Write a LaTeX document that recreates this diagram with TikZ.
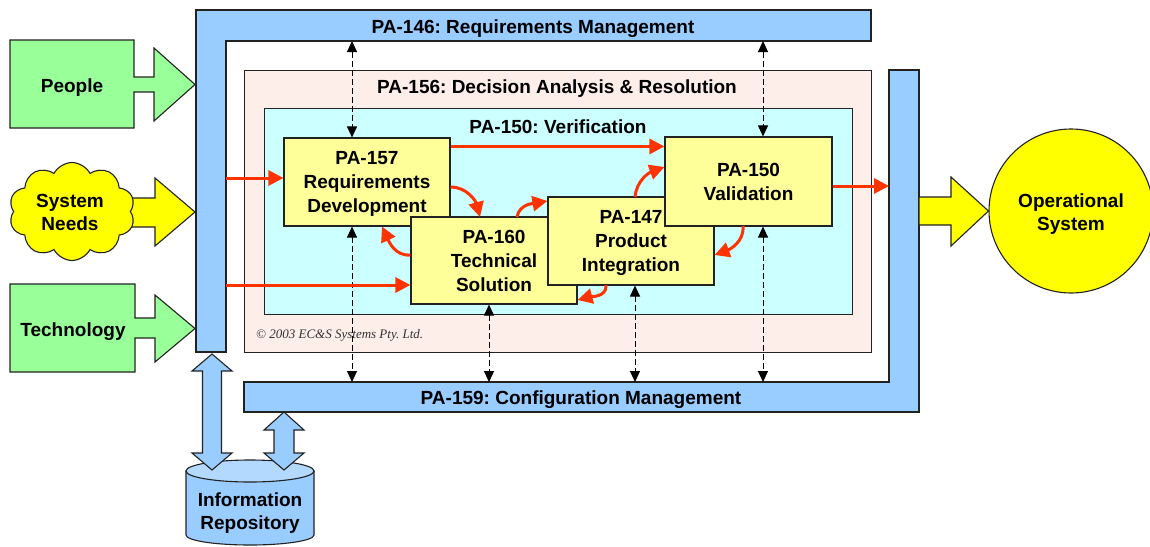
\documentclass[tikz,border=0pt]{standalone}
\usepackage{fontspec}
\setmainfont{Liberation Sans}
\newfontfamily\timesfont{Liberation Serif}
\usetikzlibrary{arrows.meta,shapes.symbols,shapes.geometric,calc}

\definecolor{barblue}{HTML}{99CCFF}
\definecolor{lgreen}{HTML}{99FF99}
\definecolor{pyellow}{HTML}{FFFF99}
\definecolor{byellow}{HTML}{FFFF00}
\definecolor{lcyan}{HTML}{CCFFFF}
\definecolor{lpink}{HTML}{FDEEEA}
\definecolor{rarrow}{HTML}{FF3300}
\definecolor{cyltop}{HTML}{B3D9FF}
\definecolor{outline}{HTML}{222222}

\begin{document}
\frenchspacing
\begin{tikzpicture}[x=1pt,y=-1pt,
  outl/.style={draw=outline, line width=1.1pt},
  lbl/.style={font=\bfseries\fontsize{19}{24}\selectfont, align=center, inner sep=0pt, yshift=-2.5pt},
  pabox/.style={outl, fill=pyellow, inner sep=0pt, align=center, text depth=0pt, font=\bfseries\fontsize{19}{24}\selectfont},
  redarr/.style={draw=rarrow, line width=3pt, -{Triangle[length=15pt,width=15pt]}},
  dasharr/.style={draw=black, line width=1pt, dash pattern=on 6pt off 3pt, {Triangle[length=11pt,width=10pt]}-{Triangle[length=11pt,width=10pt]}},
]
\useasboundingbox (0,0) rectangle (1150,546);

% PA-146 L-shaped bar
\draw[outl, fill=barblue] (196,10) -- (871,10) -- (871,41) -- (226,41) -- (226,352) -- (196,352) -- cycle;
\node[lbl] (t146) at (533,26) {PA-146: Requirements Management};

% PA-156 box
\node[outl, fill=lpink, minimum width=627pt, minimum height=282pt, inner sep=0pt, anchor=north west] (pa156) at (244,70) {};
\node[lbl] (t156) at (557,86) {PA-156: Decision Analysis \& Resolution};

% PA-159 L-shaped bar
\draw[outl, fill=barblue] (244,382) -- (889,382) -- (889,70) -- (919,70) -- (919,412) -- (244,412) -- cycle;
\node[lbl] (t159) at (581,397) {PA-159: Configuration Management};

% PA-150 verification box
\node[outl, fill=lcyan, minimum width=588pt, minimum height=206pt, inner sep=0pt, anchor=north west] (pa150v) at (264,108) {};
\node[lbl] (t150) at (558,124) {PA-150: Verification};

% copyright
\node[font=\timesfont\itshape\fontsize{13}{15}\selectfont, text=black!80, anchor=west, inner sep=0pt] (copy) at (256,335) {\textcopyright{} 2003 EC\&S Systems Pty. Ltd.};

% process area boxes
\node[pabox, minimum width=166pt, minimum height=88pt] (p157) at (367,182) {PA-157\\Requirements\\Development};
\node[pabox, minimum width=166pt, minimum height=87pt] (p160) at (494,260.5) {PA-160\\Technical\\Solution};
\node[pabox, minimum width=166pt, minimum height=88pt] (p147) at (631,241) {PA-147\\Product\\Integration};
\node[pabox, minimum width=167pt, minimum height=89pt] (p150) at (748.5,181.5) {PA-150\\Validation};

% coordinates on the bars
\coordinate (rmA) at (352,41);
\coordinate (rmB) at (763,41);
\coordinate (cmA) at (352,382);
\coordinate (cmB) at (489,382);
\coordinate (cmC) at (635,382);
\coordinate (cmD) at (763,382);
\coordinate (colA) at (226,178);
\coordinate (colB) at (226,285);
\coordinate (cmR) at (889,186);

% dashed links
\draw[dasharr] (rmA) -- (rmA |- p157.north);
\draw[dasharr] (rmB) -- (rmB |- p150.north);
\draw[dasharr] (cmA |- p157.south) -- (cmA);
\draw[dasharr] (cmB |- p160.south) -- (cmB);
\draw[dasharr] (cmC |- p147.south) -- (cmC);
\draw[dasharr] (cmD |- p150.south) -- (cmD);

% red straight arrows
\draw[redarr] (colA) -- (colA -| p157.west);
\draw[redarr] (colB) -- (colB -| p160.west);
\path (p157.north east) ++(0,9) coordinate (r3s);
\draw[redarr] (r3s) -- (r3s -| p150.west);
\draw[redarr] (cmR -| p150.east) -- (cmR);

% red curved arrows
\draw[redarr] (p157.east |- 0,187) to[out=0, in=105] (480,217);
\draw[redarr] (p160.west |- 0,255) to[out=185, in=-65] (382,226.5);
\draw[redarr] (517,217) to[out=80, in=190] (p147.west |- 0,201);
\draw[redarr] (635,197) to[out=85, in=200] (p150.west |- 0,167);
\draw[redarr] (743,226) to[out=-85, in=20] (p147.east |- 0,255);
\draw[redarr] (606,285) to[out=-85, in=15] (p160.east |- 0,300);

% inputs
\draw[outl, fill=lgreen] (10,40) -- (134,40) -- (134,77) -- (154,77) -- (154,48) -- (195,84.5) -- (154,121) -- (154,92) -- (134,92) -- (134,128) -- (10,128) -- cycle;
\node[lbl] (people) at (72,85) {People};

\draw[outl, fill=lgreen] (10,284) -- (135,284) -- (135,318) -- (155,318) -- (155,295) -- (195,328.5) -- (155,362) -- (155,338) -- (135,338) -- (135,372) -- (10,372) -- cycle;
\node[lbl] (tech) at (73,329) {Technology};

\draw[outl, fill=byellow] (110,198) -- (155,198) -- (155,178) -- (195,212) -- (155,246) -- (155,227) -- (110,227) -- cycle;
\node[cloud, cloud puffs=10, cloud puff arc=125, cloud ignores aspect, outl, fill=byellow, minimum width=126pt, minimum height=98pt, inner sep=0pt] (needsc) at (72,211.5) {};
\node[lbl, font=\bfseries\fontsize{19}{23}\selectfont, yshift=1pt] (needs) at (70,210.5) {System\\Needs};

% output
\node[circle, outl, fill=byellow, minimum size=164pt, inner sep=0pt] (ops) at (1071,211) {};
\node[lbl, font=\bfseries\fontsize{19}{23}\selectfont] (opst) at (1071,211.5) {Operational\\System};
\draw[outl, fill=byellow] (919,197) -- (951,197) -- (951,177) -- (ops.west) -- (951,246) -- (951,225) -- (919,225) -- cycle;

% information repository
\draw[outl, fill=barblue] (186,471) -- (186,535) arc[start angle=180, end angle=360, x radius=64pt, y radius=10pt] -- (314,471) -- cycle;
\draw[outl, fill=cyltop] (250,471) ellipse[x radius=64pt, y radius=11pt];
\node[lbl, font=\bfseries\fontsize{19}{23}\selectfont] (repo) at (250,510.5) {Information\\Repository};

% double arrows to repository
\draw[outl, fill=barblue] (212,354) -- (232,371) -- (221.5,371) -- (221.5,453) -- (232,453) -- (212,470) -- (192,453) -- (202.5,453) -- (202.5,371) -- (192,371) -- cycle;
\draw[outl, fill=barblue] (284,412) -- (304,430) -- (294,430) -- (294,453) -- (304,453) -- (284,470) -- (264,453) -- (274,453) -- (274,430) -- (264,430) -- cycle;

\end{tikzpicture}
\end{document}
